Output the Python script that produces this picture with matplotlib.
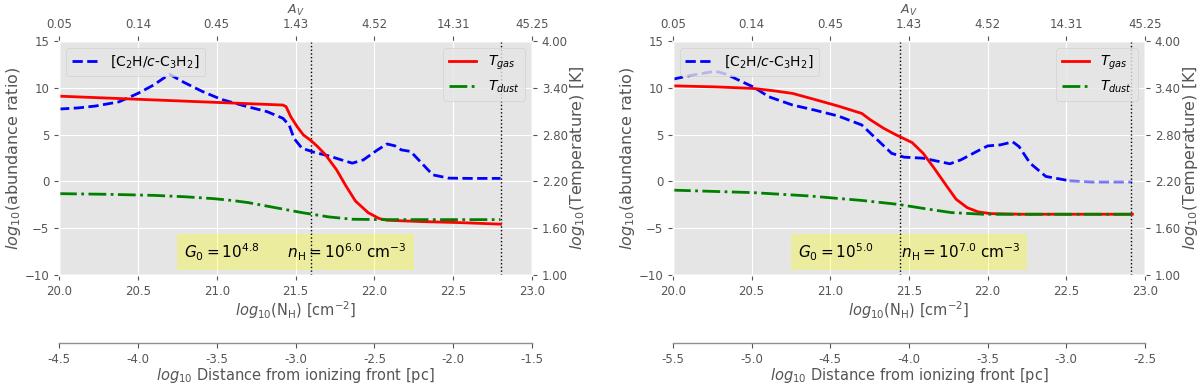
import matplotlib
matplotlib.use("Agg")
import matplotlib.pyplot as plt

plt.style.use("ggplot")

# ---------------- data ----------------
xticks_nh = [20.0, 20.5, 21.0, 21.5, 22.0, 22.5, 23.0]
av_labels = ["0.05", "0.14", "0.45", "1.43", "4.52", "14.31", "45.25"]
temp_ticks = [1.00, 1.60, 2.20, 2.80, 3.40, 4.00]
ratio_ticks = [-10, -5, 0, 5, 10, 15]

# left panel
dist_labels_L = ["-4.5", "-4.0", "-3.5", "-3.0", "-2.5", "-2.0", "-1.5"]
vlines_L = [21.6, 22.8]
G0_L = "4.8"
nH_L = "6.0"
nh_ratio_L = [20.0, 20.12, 20.23, 20.38, 20.50, 20.60, 20.70, 20.79, 20.91, 21.03,
              21.18, 21.32, 21.42, 21.46, 21.49, 21.54, 21.62, 21.71, 21.80, 21.86,
              21.93, 22.02, 22.08, 22.13, 22.17, 22.23, 22.30, 22.37, 22.47, 22.6, 22.8]
ratio_L = [7.73, 7.85, 8.05, 8.5, 9.4, 10.3, 11.45, 10.6, 9.6, 8.76,
           8.05, 7.45, 6.74, 6.0, 4.6, 3.55, 3.1, 2.73, 2.25, 1.95,
           2.3, 3.37, 4.0, 3.8, 3.37, 3.2, 1.95, 0.7, 0.35, 0.32, 0.32]
nh_tgas_L = [20.0, 21.42, 21.44, 21.47, 21.51, 21.55, 21.60, 21.64, 21.69, 21.76,
             21.82, 21.88, 21.96, 22.03, 22.08, 22.3, 22.54, 22.8]
tgas_L = [3.293, 3.179, 3.158, 3.028, 2.902, 2.795, 2.72, 2.646, 2.541, 2.349,
          2.14, 1.948, 1.800, 1.724, 1.702, 1.685, 1.672, 1.652]
nh_tdust_L = [20.0, 20.3, 20.6, 20.8, 20.98, 21.1, 21.2, 21.37, 21.54, 21.71, 21.86, 22.05, 22.8]
tdust_L = [2.043, 2.035, 2.021, 2.003, 1.979, 1.955, 1.928, 1.864, 1.800, 1.745, 1.715, 1.710, 1.710]

# right panel
dist_labels_R = ["-5.5", "-5.0", "-4.5", "-4.0", "-3.5", "-3.0", "-2.5"]
vlines_R = [21.44, 22.91]
G0_R = "5.0"
nH_R = "7.0"
nh_ratio_R = [20.0, 20.12, 20.27, 20.34, 20.44, 20.51, 20.61, 20.76, 20.90, 21.05,
              21.20, 21.30, 21.39, 21.47, 21.59, 21.69, 21.76, 21.83, 21.93, 22.0,
              22.08, 22.16, 22.20, 22.27, 22.37, 22.52, 22.66, 22.92]
ratio_R = [10.92, 11.35, 11.77, 11.45, 10.64, 10.1, 9.04, 8.16, 7.62, 6.99,
           6.03, 4.43, 3.0, 2.59, 2.48, 2.13, 1.88, 2.3, 3.19, 3.79,
           3.9, 4.22, 3.72, 1.95, 0.53, 0.07, -0.07, -0.07]
nh_tgas_R = [20.0, 20.27, 20.51, 20.64, 20.76, 20.90, 21.05, 21.20, 21.25, 21.34,
             21.42, 21.52, 21.59, 21.66, 21.74, 21.80, 21.87, 21.94, 22.02, 22.21, 22.92]
tgas_R = [3.425, 3.412, 3.392, 3.362, 3.328, 3.251, 3.166, 3.072, 2.996, 2.880,
          2.795, 2.698, 2.561, 2.370, 2.14, 1.971, 1.864, 1.809, 1.787, 1.779, 1.779]
nh_tdust_R = [20.0, 20.51, 20.87, 21.0, 21.19, 21.43, 21.6, 21.77, 21.97, 22.92]
tdust_R = [2.088, 2.056, 2.013, 1.99, 1.958, 1.906, 1.851, 1.800, 1.779, 1.779]
fade_from_R = 22.52

# ---------------- plotting ----------------
TICK_FS = 8.5
XLABEL_FS = 10.5
YLABEL_FS = 11.5
GRAY = "#555555"

fig = plt.figure(figsize=(12, 3.85), dpi=100)


def panel(rect, nh_r, r, nh_g, tg, nh_d, td, vlines, dist_labels, G0, nH, fade_from=None):
    ax = fig.add_axes(rect)
    ax.set_xlim(20, 23)
    ax.set_ylim(-10, 15)
    ax.set_xticks(xticks_nh)
    ax.set_yticks(ratio_ticks)
    ax.tick_params(labelsize=TICK_FS)
    if fade_from is None:
        ax.plot(nh_r, r, color="b", ls="--", lw=2, label=r"[C$_2$H/$c$-C$_3$H$_2$]")
    else:
        xs1 = [x for x in nh_r if x <= fade_from]
        ys1 = r[:len(xs1)]
        xs2 = nh_r[len(xs1) - 1:]
        ys2 = r[len(xs1) - 1:]
        ax.plot(xs1, ys1, color="b", ls="--", lw=2, label=r"[C$_2$H/$c$-C$_3$H$_2$]")
        ax.plot(xs2, ys2, color="b", ls="--", lw=2, alpha=0.5)
    for v in vlines:
        ax.axvline(v, color="k", ls=":", lw=1, zorder=5)
    ax.set_xlabel(r"$log_{10}$(N$_{\rm H}$) [cm$^{-2}$]", fontsize=XLABEL_FS, labelpad=1)
    ax.set_ylabel(r"$log_{10}$(abundance ratio)", fontsize=YLABEL_FS, labelpad=1)
    ax.legend(loc="upper left", fontsize=10)
    ax.text(21.5, -7.55,
            r"$G_0 = 10^{" + G0 + r"}$" + "      " + r"$n_{\rm H} = 10^{" + nH + r"}$ cm$^{-3}$",
            ha="center", va="center", fontsize=11, color="k",
            bbox=dict(facecolor="yellow", alpha=0.3, edgecolor="none", pad=5))

    # temperature axis
    axr = ax.twinx()
    axr.set_ylim(1.0, 4.0)
    axr.set_yticks(temp_ticks)
    axr.set_yticklabels([f"{t:.2f}" for t in temp_ticks])
    axr.grid(False)
    axr.tick_params(labelsize=TICK_FS)
    axr.plot(nh_g, tg, color="r", ls="-", lw=2, label=r"$T_{gas}$")
    axr.plot(nh_d, td, color="g", ls="-.", lw=2, label=r"$T_{dust}$")
    axr.set_ylabel(r"$log_{10}$(Temperature) [K]", fontsize=YLABEL_FS, labelpad=0)
    axr.legend(loc="upper right", fontsize=10)

    # A_V axis
    axt = ax.twiny()
    axt.set_xlim(20, 23)
    axt.set_xticks(xticks_nh)
    axt.set_xticklabels(av_labels)
    axt.grid(False)
    axt.tick_params(labelsize=TICK_FS)
    axt.set_xlabel(r"$A_V$", fontsize=9, labelpad=3)

    # distance axis
    axb = ax.twiny()
    axb.set_xlim(20, 23)
    axb.set_xticks(xticks_nh)
    axb.set_xticklabels(dist_labels)
    axb.grid(False)
    axb.xaxis.set_ticks_position("bottom")
    axb.xaxis.set_label_position("bottom")
    for s in axb.spines.values():
        s.set_visible(False)
    axb.spines["bottom"].set_visible(True)
    axb.spines["bottom"].set_position(("axes", -0.29))
    axb.spines["bottom"].set_color("#909090")
    axb.spines["bottom"].set_linewidth(1)
    axb.tick_params(labelsize=TICK_FS, colors=GRAY)
    axb.set_xlabel(r"$log_{10}$ Distance from ionizing front [pc]", fontsize=XLABEL_FS, labelpad=0)
    return ax


panel([0.0492, 0.2857, 0.3942, 0.6078], nh_ratio_L, ratio_L, nh_tgas_L, tgas_L,
      nh_tdust_L, tdust_L, vlines_L, dist_labels_L, G0_L, nH_L)
panel([0.5608, 0.2857, 0.3933, 0.6078], nh_ratio_R, ratio_R, nh_tgas_R, tgas_R,
      nh_tdust_R, tdust_R, vlines_R, dist_labels_R, G0_R, nH_R, fade_from=fade_from_R)

fig.savefig("out.png", dpi=100)
